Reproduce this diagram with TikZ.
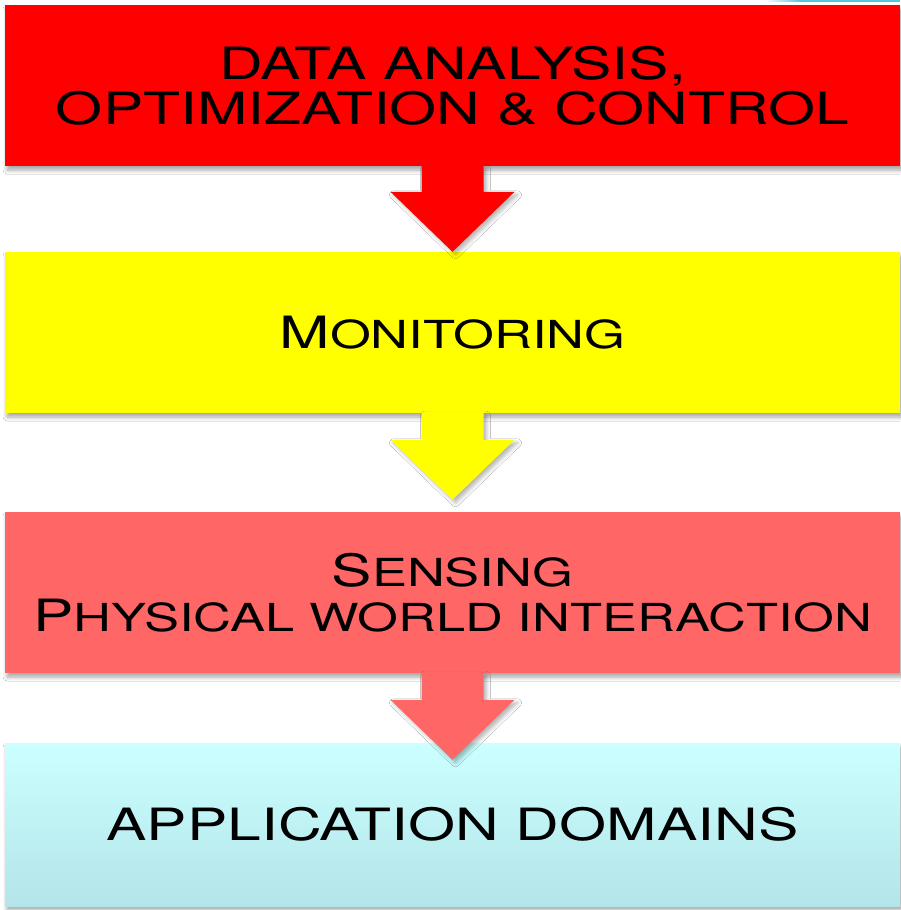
\documentclass[tikz,border=0pt]{standalone}
\usepackage{fontspec}
\setmainfont{TeX Gyre Heros}[FakeStretch=1.36]
\usetikzlibrary{calc,shadows.blur}
\definecolor{boxred}{HTML}{FF0000}
\definecolor{boxyellow}{HTML}{FFFF00}
\definecolor{boxsalmon}{HTML}{FF6666}
\definecolor{cyantop}{HTML}{CCFFFF}
\definecolor{cyanbot}{HTML}{B3E5E9}
\definecolor{edgecyan}{HTML}{5BC3DA}
\newcommand{\smcap}[1]{{\fontsize{38.6pt}{45pt}\selectfont #1}}
\newcommand{\blockarrow}[3]{%
  \fill[#3, arrowshadow]
    ($(#1.south)+(-31,-1)$) -- ($(#1.south)+(31,-1)$) -- ($(#2)+(31,-60)$)
    -- ($(#2)+(62,-60)$) -- (#2) -- ($(#2)+(-62,-60)$) -- ($(#2)+(-31,-60)$) -- cycle;}
\begin{document}
\begin{tikzpicture}[x=1pt,y=-1pt,
  font=\fontsize{44.5pt}{45pt}\selectfont,
  layer/.style={rectangle, minimum width=895pt, minimum height=161pt,
    inner sep=0pt, align=center, text=black,
    blur shadow={shadow xshift=2pt, shadow yshift=-4pt, shadow blur radius=4pt, shadow opacity=35}},
  arrowshadow/.style={blur shadow={shadow xshift=3pt, shadow yshift=-3pt, shadow blur radius=4pt, shadow opacity=30}}]
\useasboundingbox (0,0) rectangle (900,910);
\fill[white] (0,0) rectangle (900,910);
% thin edge at top right
\shade[left color=white, right color=edgecyan] (765,0) rectangle (800,1.5);
\fill[edgecyan] (800,0) rectangle (900,1.5);
% layers
\node[layer, fill=boxred] (analysis) at (452.5,85.5) {DATA ANALYSIS,\\OPTIMIZATION \& CONTROL};
\node[layer, fill=boxyellow] (monitoring) at (452.5,332.5) {M\smcap{ONITORING}};
\node[layer, fill=boxsalmon] (sensing) at (452.5,592.5) {S\smcap{ENSING}\\P\smcap{HYSICAL WORLD INTERACTION}};
\node[layer, top color=cyantop, bottom color=cyanbot, minimum height=163pt] (domains) at (452.5,824.5) {APPLICATION DOMAINS};
% arrow tips
\coordinate (tipA) at (monitoring.north);
\coordinate (tipB) at ($(sensing.north)+(0,-12)$);
\coordinate (tipC) at ($(domains.north)+(0,17)$);
% block arrows
\blockarrow{analysis}{tipA}{boxred}
\blockarrow{monitoring}{tipB}{boxyellow}
\blockarrow{sensing}{tipC}{boxsalmon}
\end{tikzpicture}
\end{document}
